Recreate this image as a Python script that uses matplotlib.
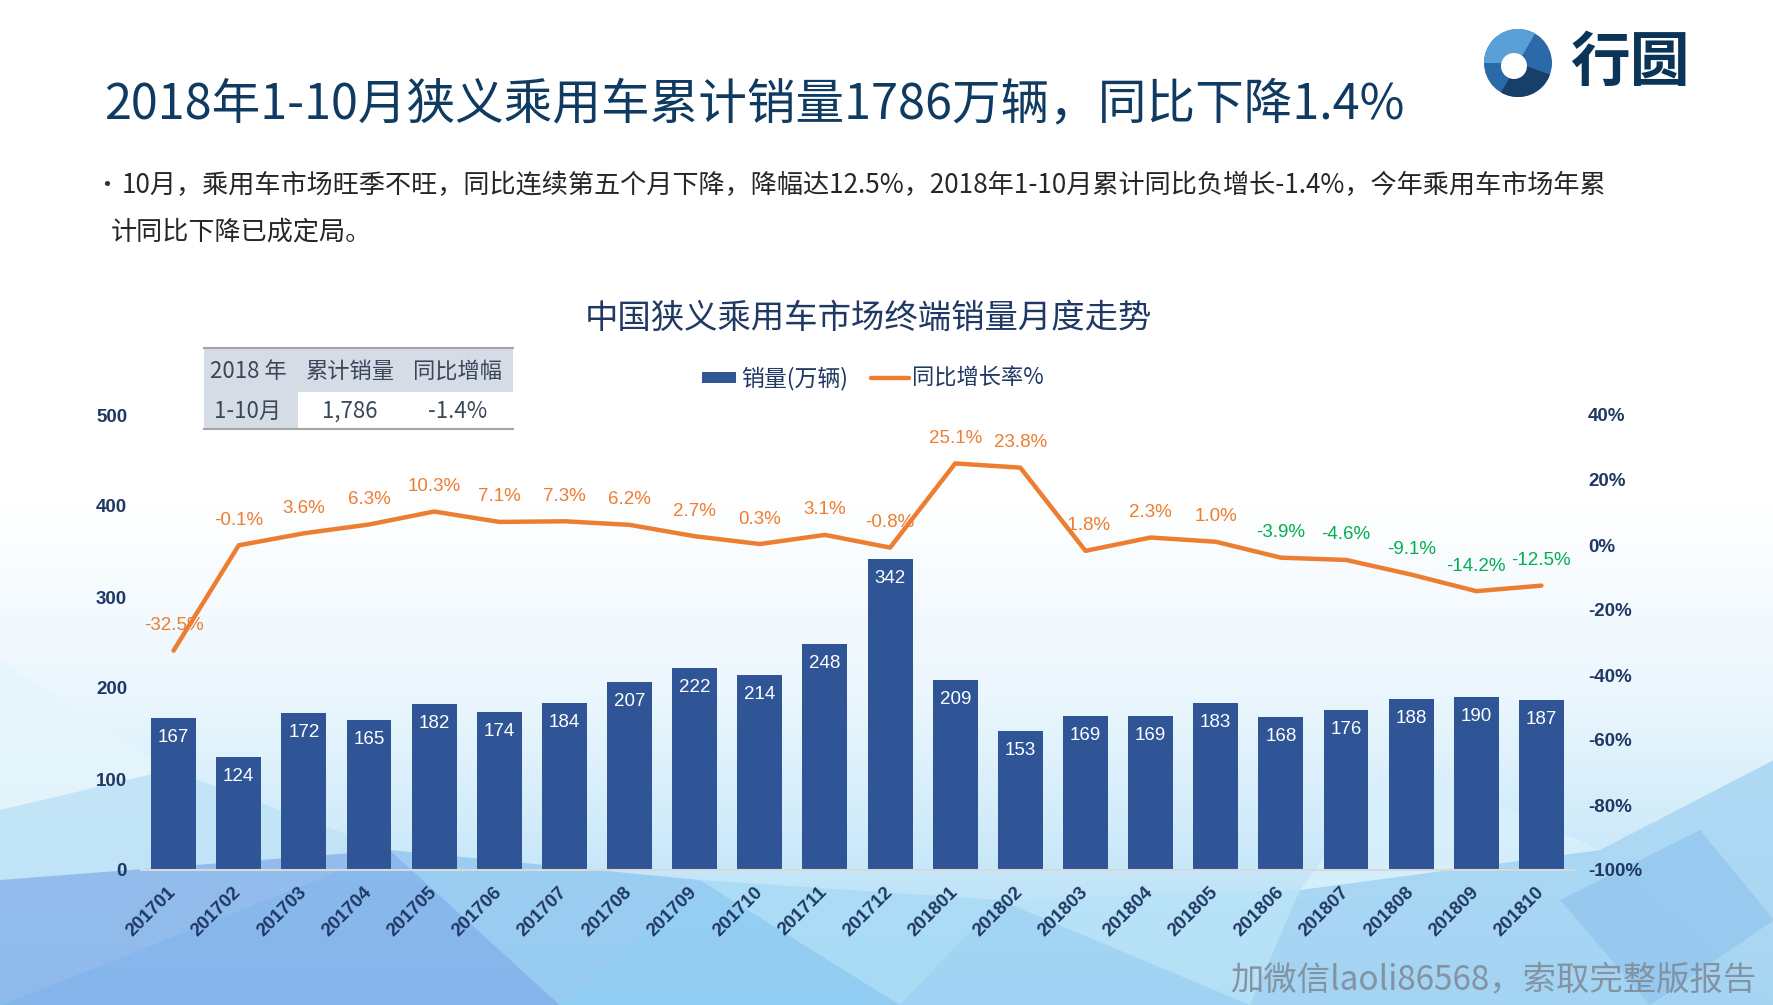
import numpy as np
import matplotlib
matplotlib.use("Agg")
import matplotlib.pyplot as plt
from matplotlib.patches import Rectangle, Polygon, Circle, Wedge
from matplotlib.colors import LinearSegmentedColormap

# data
months = ['201701', '201702', '201703', '201704', '201705', '201706', '201707', '201708',
          '201709', '201710', '201711', '201712', '201801', '201802', '201803', '201804',
          '201805', '201806', '201807', '201808', '201809', '201810']
sales = [167, 124, 172, 165, 182, 174, 184, 207, 222, 214, 248, 342,
         209, 153, 169, 169, 183, 168, 176, 188, 190, 187]
growth = [-32.5, -0.1, 3.6, 6.3, 10.3, 7.1, 7.3, 6.2, 2.7, 0.3, 3.1, -0.8,
          25.1, 23.8, -1.8, 2.3, 1.0, -3.9, -4.6, -9.1, -14.2, -12.5]
# the last five growth labels are shown in green
green_from = '201806'

table_header = ['2018 年', '累计销量', '同比增幅']
table_row = ['1-10月', '1,786', '-1.4%']

W, H = 1774, 1005
CJK = ['Noto Sans CJK SC', 'DejaVu Sans']
NUM = ['Liberation Sans', 'DejaVu Sans']
BAR_C = '#2f5597'
LINE_C = '#ed7d31'
NAVY = '#1f3864'


def px(x, y):
    return x / W, 1 - y / H


fig = plt.figure(figsize=(W / 100, H / 100), dpi=100)

# ---- background (white fading into light blue low-poly) ----
bg = fig.add_axes([0, 0, 1, 1], zorder=-10)
bg.set_xlim(0, W)
bg.set_ylim(H, 0)
bg.axis('off')
cmap = LinearSegmentedColormap.from_list('bg', [(0, '#ffffff'), (0.5, '#ffffff'),
                                                (0.7, '#eaf6fd'), (0.84, '#cdeafa'),
                                                (1, '#a6d6f3')])
grad = np.linspace(0, 1, 256).reshape(-1, 1)
bg.imshow(grad, cmap=cmap, extent=[0, W, H, 0], aspect='auto')

polys = [
    ([(0, 660), (170, 770), (0, 810)], '#e6f5fc'),
    ([(0, 810), (170, 770), (390, 850), (0, 880)], '#c0e3f7'),
    ([(0, 880), (390, 850), (0, 1005)], '#8ab5ea'),
    ([(0, 1005), (390, 850), (560, 1005)], '#7fb0ea'),
    ([(390, 850), (700, 880), (560, 1005)], '#94c9f0'),
    ([(560, 1005), (700, 880), (900, 1005)], '#8ecbf2'),
    ([(700, 880), (1000, 900), (900, 1005)], '#a9dbf5'),
    ([(900, 1005), (1000, 900), (1250, 1005)], '#9fd3f3'),
    ([(1000, 900), (1300, 890), (1250, 1005)], '#b7e2f7'),
    ([(1300, 890), (1600, 850), (1774, 1005), (1250, 1005)], '#a4d4f3'),
    ([(1600, 850), (1774, 760), (1774, 1005)], '#a8d5f2'),
    ([(1560, 900), (1700, 830), (1774, 920), (1650, 1005)], '#95c7ef'),
    ([(1400, 760), (1600, 850), (1300, 890)], '#d8f0fb'),
]
for pts, c in polys:
    bg.add_patch(Polygon(pts, closed=True, facecolor=c, edgecolor='none', alpha=0.85))

# ---- header texts ----
fig.text(*px(104, 105), '2018年1-10月狭义乘用车累计销量1786万辆，同比下降1.4%',
         family=CJK, fontsize=35, color='#0f3a62', va='center', ha='left')
fig.text(*px(94, 186), '•', family=CJK, fontsize=18, color='#333333', va='center', ha='left')
fig.text(*px(122, 186),
         '10月，乘用车市场旺季不旺，同比连续第五个月下降，降幅达12.5%，2018年1-10月累计同比负增长-1.4%，今年乘用车市场年累',
         family=CJK, fontsize=18.8, color='#262626', va='center', ha='left')
fig.text(*px(111, 232), '计同比下降已成定局。', family=CJK, fontsize=18.8,
         color='#262626', va='center', ha='left')

# overlay axes in pixel coords for logo, legend and table shapes
lg = fig.add_axes([0, 0, 1, 1], zorder=5)
lg.axis('off')
lg.set_aspect('equal', adjustable='datalim')
lg.set_xlim(0, W)
lg.set_ylim(H, 0)
lg.add_patch(Circle((1518, 63), 34, facecolor='#2a6aa8', edgecolor='none'))
lg.add_patch(Wedge((1518, 63), 34, 180, 300, facecolor='#5a9fd6', edgecolor='none'))
lg.add_patch(Wedge((1518, 63), 34, 20, 120, facecolor='#173f6a', edgecolor='none'))
lg.add_patch(Circle((1514, 66), 13, facecolor='white', edgecolor='none'))
fig.text(*px(1570, 64), '行圆', family=CJK, fontsize=43, fontweight='bold',
         color='#0b3558', va='center', ha='left', zorder=10)

# chart title
fig.text(*px(868, 318), '中国狭义乘用车市场终端销量月度走势', family=CJK, fontsize=24,
         color=NAVY, va='center', ha='center')

# legend (drawn by hand to match the layout)
lg.add_patch(Rectangle((702, 372), 34, 11, facecolor=BAR_C, edgecolor='none'))
fig.text(*px(741, 378), '销量(万辆)', family=CJK, fontsize=16.5, color=NAVY,
         va='center', ha='left', zorder=10)
lg.plot([871, 909], [378, 378], color=LINE_C, lw=3.2, solid_capstyle='round')
fig.text(*px(912, 378), '同比增长率%', family=CJK, fontsize=16, color=NAVY,
         va='center', ha='left', zorder=10)

# small summary table
lg.add_patch(Rectangle((204, 348), 309, 44, facecolor='#d6dce5', edgecolor='none'))
lg.add_patch(Rectangle((204, 392), 94, 37, facecolor='#d6dce5', edgecolor='none'))
lg.add_patch(Rectangle((298, 392), 215, 37, facecolor='white', edgecolor='none'))
lg.plot([204, 513], [348, 348], color='#a6a6a6', lw=1.5)
lg.plot([204, 513], [429, 429], color='#a6a6a6', lw=1.5)
col_x = [248, 350, 458]
for cx, h, r in zip(col_x, table_header, table_row):
    fig.text(*px(cx, 371), h, family=CJK, fontsize=16, color='#3a475a',
             va='center', ha='center', zorder=10)
    fig.text(*px(cx, 411), r, family=CJK, fontsize=16, color='#3a475a',
             va='center', ha='center', zorder=10)

# ---- main chart ----
ax = fig.add_axes([141 / W, 1 - 870 / H, (1574 - 141) / W, (870 - 415) / H], zorder=2)
ax.patch.set_alpha(0)
x = np.arange(len(months))
bars = ax.bar(x, sales, width=0.69, color=BAR_C, zorder=2)
ax.set_xlim(-0.5, len(months) - 0.5)
ax.set_ylim(0, 500)
ax.set_yticks(range(0, 501, 100))
ax.set_xticks(x)
ax.set_xticklabels(months, rotation=45, ha='right', va='center', rotation_mode='anchor',
                   family=NUM, fontsize=13.5, fontweight='bold', color=NAVY)
for lab in ax.get_yticklabels():
    lab.set_family(NUM)
    lab.set_fontsize(13.5)
    lab.set_fontweight('bold')
    lab.set_color(NAVY)
ax.tick_params(axis='x', length=0, pad=14)
ax.tick_params(axis='y', length=0, pad=10)
for s in ['top', 'right', 'left']:
    ax.spines[s].set_visible(False)
ax.spines['bottom'].set_color('#d9d9d9')
ax.spines['bottom'].set_linewidth(1.5)

for xi, v in zip(x, sales):
    ax.annotate(str(v), (xi, v), xytext=(0, -14), textcoords='offset points',
                ha='center', va='center', color='white', family=NUM, fontsize=13.5)

ax2 = ax.twinx()
ax2.set_ylim(-100, 40)
ax2.set_yticks(range(-100, 41, 20))
ax2.set_yticklabels([f'{t}%' for t in range(-100, 41, 20)], family=NUM, fontsize=13.5,
                    fontweight='bold', color=NAVY)
ax2.tick_params(axis='y', length=0, pad=10)
for s in ax2.spines.values():
    s.set_visible(False)
ax2.plot(x, growth, color=LINE_C, lw=3.2, solid_capstyle='round', zorder=3)
gi = months.index(green_from)
for i, (xi, g) in enumerate(zip(x, growth)):
    c = '#00b050' if i >= gi else LINE_C
    ax2.annotate(f'{g:.1f}%', (xi, g), xytext=(0, 18), textcoords='offset points',
                 ha='center', va='center', color=c, family=NUM, fontsize=13.5)

# watermark
fig.text(*px(1756, 980), '加微信laoli86568，索取完整版报告', family=CJK, fontsize=24,
         color='#7f8c99', va='center', ha='right', alpha=0.9)

fig.savefig('out.png', dpi=100)
